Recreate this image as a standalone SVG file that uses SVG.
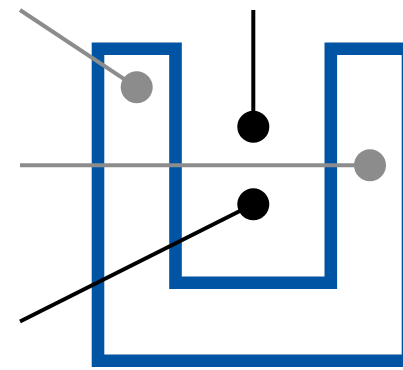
<svg xmlns="http://www.w3.org/2000/svg" width="403" height="370" viewBox="0 0 403 370">
  <style>
    .wall { fill: none; stroke: #0054a4; stroke-width: 12.6; stroke-linejoin: miter; }
    .grey { stroke: #8c8c8c; stroke-width: 4; fill: none; }
    .black { stroke: #000000; stroke-width: 4; fill: none; }
    .gdot { fill: #8c8c8c; }
    .bdot { fill: #000000; }
  </style>
  <rect width="403" height="370" fill="#ffffff"/>
  <g id="shape">
    <path class="wall" d="M98,48.7 H175.5 V282.7 H330.8 V48.7 H408 V360.8 H98 Z"/>
  </g>
  <g id="connectors">
    <line class="grey" x1="20" y1="10" x2="136.7" y2="87.3"/>
    <line class="grey" x1="20" y1="165.3" x2="370" y2="165.3"/>
    <line class="black" x1="253.3" y1="10" x2="253.3" y2="126.7"/>
    <line class="black" x1="20" y1="321.5" x2="253.3" y2="204.3"/>
  </g>
  <g id="node-grey-1"><circle class="gdot" cx="136.7" cy="87.3" r="16"/></g>
  <g id="node-grey-2"><circle class="gdot" cx="370" cy="165.3" r="16"/></g>
  <g id="node-black-1"><circle class="bdot" cx="253.3" cy="126.7" r="16"/></g>
  <g id="node-black-2"><circle class="bdot" cx="253.3" cy="204.3" r="16"/></g>
</svg>
